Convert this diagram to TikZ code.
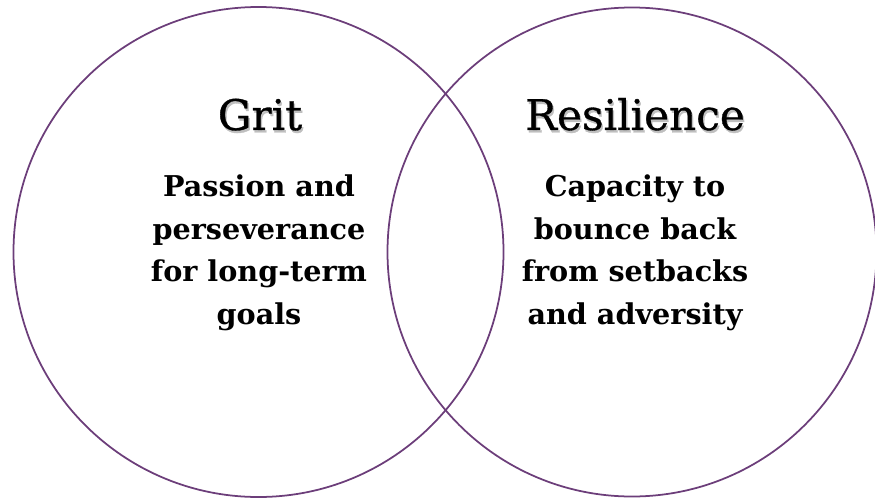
\documentclass[tikz,border=0pt]{standalone}
\usepackage{fontspec}
\setmainfont{DejaVu Serif}
\newfontfamily\titlefont[FakeBold=0.8]{DejaVu Serif}
\usepackage{tikz}
\usetikzlibrary{positioning}
\definecolor{vennpurple}{RGB}{108,62,122}
\newcommand{\shadowtitle}[1]{\rlap{\hspace{0.8pt}\raisebox{-1.4pt}{\color{black!25}#1}}#1}
\tikzset{
	venn/.style={draw=vennpurple, line width=1pt},
	title/.style={font=\titlefont\fontsize{24}{28}\selectfont, anchor=base},
	body/.style={font=\bfseries\fontsize{16.3}{24.1}\selectfont, align=center, anchor=north}
}

\begin{document}
\begin{tikzpicture}
\useasboundingbox (0,0) rectangle (17.5,9.98);
	% Circles
\node (cgrit) [venn, circle, minimum size=9.8cm] at (5.17,4.94) {};
\node (cres) [venn, circle, minimum size=9.78cm] at (12.64,4.94) {};
	% Left side
\node (tgrit) [title] at (5.2,7.38) {\shadowtitle{Grit}};
\node (bgrit) [body] at (5.18,6.6) {Passion and\\perseverance\\for long-term\\goals};
	% Right side
\node (tres) [title] at (12.7,7.38) {\shadowtitle{Resilience}};
\node (bres) [body] at (12.7,6.6) {Capacity to\\bounce back\\from setbacks\\and adversity};
\end{tikzpicture}
\end{document}
